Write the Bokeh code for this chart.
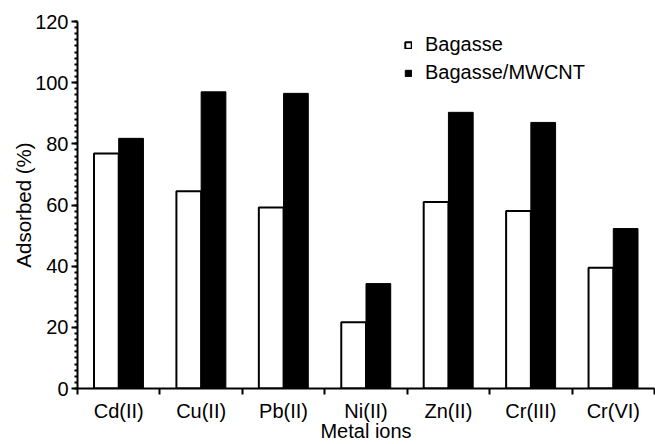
from bokeh.plotting import figure
from bokeh.models import Range1d, FixedTicker, Legend, LegendItem, ColumnDataSource
from bokeh.transform import dodge
from bokeh.embed import file_html
from bokeh.resources import INLINE

metals = ["Cd(II)", "Cu(II)", "Pb(II)", "Ni(II)", "Zn(II)", "Cr(III)", "Cr(VI)"]
bagasse = [76.8, 64.5, 59.2, 21.7, 61.0, 58.0, 39.5]
bagasse_mwcnt = [81.8, 97.0, 96.5, 34.3, 90.3, 87.0, 52.3]
y_ticks = [0, 20, 40, 60, 80, 100, 120]

idx = [i + 0.5 for i in range(len(metals))]
src = ColumnDataSource(dict(x=idx, bagasse=bagasse, mwcnt=bagasse_mwcnt))

FONT = "Liberation Sans"

p = figure(width=655, height=444, x_range=Range1d(0, len(metals)), y_range=Range1d(0, 120),
           output_backend="svg", toolbar_location=None,
           min_border_left=77, min_border_right=1, min_border_top=21, min_border_bottom=56)

r1 = p.vbar(x=dodge('x', -0.15, range=p.x_range), top='bagasse', width=0.3, source=src,
            fill_color='white', line_color='black', line_width=2)
r2 = p.vbar(x=dodge('x', 0.15, range=p.x_range), top='mwcnt', width=0.3, source=src,
            fill_color='black', line_color='black', line_width=1)

p.xgrid.visible = False
p.ygrid.visible = False
p.outline_line_color = None

xa = p.xaxis[0]
xa.ticker = FixedTicker(ticks=idx, minor_ticks=list(range(0, len(metals) + 1)))
xa.major_label_overrides = {x: m for x, m in zip(idx, metals)}
xa.major_tick_out = 0
xa.major_tick_in = 0
xa.minor_tick_out = 6
xa.minor_tick_in = 0
xa.minor_tick_line_width = 2
xa.axis_line_width = 2
xa.major_label_standoff = 5
xa.major_label_text_font = FONT
xa.major_label_text_font_size = "20px"
xa.major_label_text_color = "black"
xa.axis_label = "Metal ions"
xa.axis_label_text_font = FONT
xa.axis_label_text_font_size = "20px"
xa.axis_label_text_font_style = "normal"
xa.axis_label_text_color = "black"
xa.axis_label_standoff = -5

ya = p.yaxis[0]
ya.ticker = FixedTicker(ticks=y_ticks, minor_ticks=list(range(0, 121, 2)))
ya.major_tick_out = 6
ya.major_tick_in = 0
ya.minor_tick_out = 3
ya.minor_tick_in = 0
ya.major_tick_line_width = 2
ya.minor_tick_line_width = 2
ya.axis_line_width = 2
ya.major_label_standoff = 3
ya.major_label_text_font = FONT
ya.major_label_text_font_size = "20px"
ya.major_label_text_color = "black"
ya.axis_label = "Adsorbed (%)"
ya.axis_label_text_font = FONT
ya.axis_label_text_font_size = "20.5px"
ya.axis_label_text_font_style = "normal"
ya.axis_label_text_color = "black"
ya.axis_label_standoff = -3

legend = Legend(items=[LegendItem(label="Bagasse", renderers=[r1]),
                       LegendItem(label="Bagasse/MWCNT", renderers=[r2])],
                location=(327, 304), glyph_width=8, glyph_height=8, label_standoff=13,
                spacing=5, padding=0, margin=0, border_line_color=None,
                background_fill_alpha=0, label_text_font=FONT, label_text_font_size="20px",
                label_text_color="black")
p.add_layout(legend)

open("out.html", "w").write(file_html(p, INLINE))
